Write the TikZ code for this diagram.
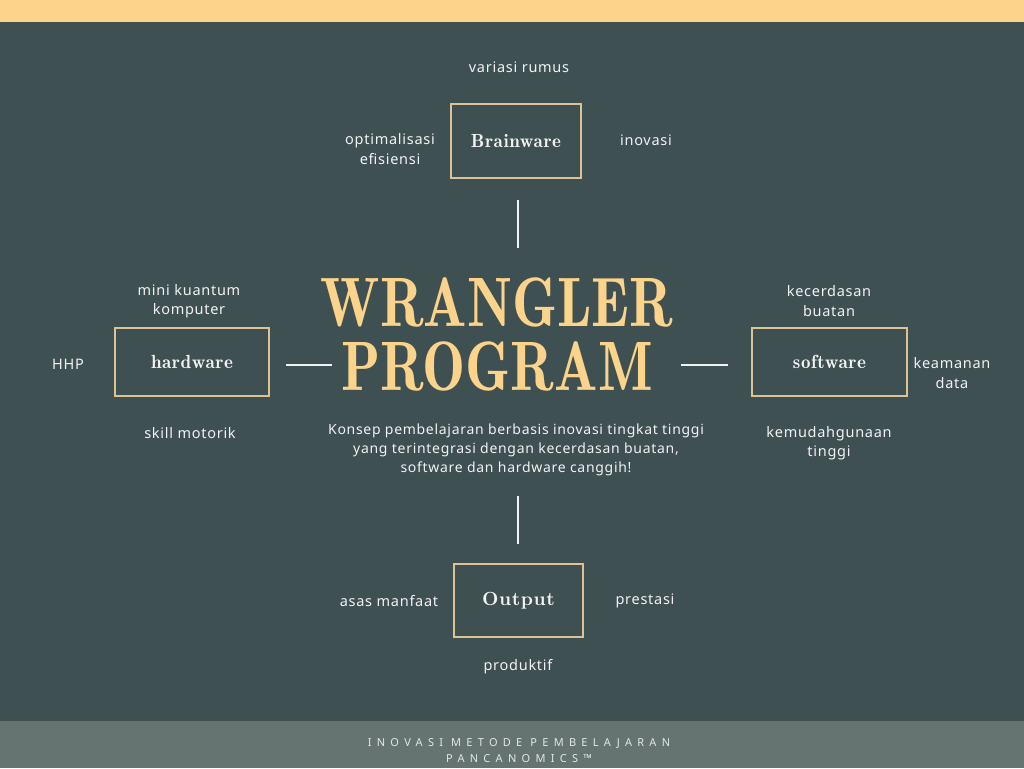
\documentclass[tikz,border=0pt]{standalone}
\usepackage{fontspec}
\setmainfont{Latin Modern Roman}
\newfontfamily\labfont[LetterSpace=5]{Noto Sans}
\newfontfamily\footfont[LetterSpace=48]{Noto Sans}
\newfontfamily\boxfont[Extension=.otf, LetterSpace=3, BoldFont=lmroman10-bold]{lmromandemi10-regular}
\newfontfamily\ttlfont[Extension=.otf]{lmromandemi10-regular}
\definecolor{bg}{HTML}{3E5052}
\definecolor{topbar}{HTML}{FDD38B}
\definecolor{footbg}{HTML}{657371}
\definecolor{gold}{HTML}{FCD38A}
\definecolor{boxline}{HTML}{DCC394}
\definecolor{labcol}{HTML}{F2F2F2}
\definecolor{footcol}{HTML}{E4E8E8}
\tikzset{
  boxnode/.style={draw=boxline, line width=1.8pt, inner sep=0pt, text=labcol,
    font=\boxfont\fontsize{19}{22}\selectfont},
  lab/.style={text=labcol, align=center, inner sep=0pt,
    font=\labfont\fontsize{14.5}{19.5}\selectfont},
  ttl/.style={text=gold, inner sep=0pt, anchor=base,
    font=\ttlfont\fontsize{70}{70}\selectfont},
  seg/.style={draw=labcol, line width=1.6pt},
  foot/.style={text=footcol, inner sep=0pt, font=\footfont\fontsize{11}{15}\selectfont}
}
\begin{document}
\begin{tikzpicture}[x=1pt,y=-1pt]
\fill[bg] (0,0) rectangle (1024,768);
\fill[topbar] (0,0) rectangle (1024,22);
\fill[footbg] (0,721) rectangle (1024,768);
\useasboundingbox (0,0) rectangle (1024,768);

% boxes
\node[boxnode, minimum width=130pt, minimum height=74pt] (brain) at (516,141) {Brainware};
\node[boxnode, minimum width=154pt, minimum height=68pt] (hard) at (192,362) {hardware};
\node[boxnode, minimum width=155pt, minimum height=68pt] (soft) at (829.5,362) {software};
\node[boxnode, minimum width=129pt, minimum height=73pt, font=\boxfont\bfseries\fontsize{19}{22}\selectfont] (out) at (518.5,600.5) {Output};

% title
\node[ttl] (t1) at (497,326) {\scalebox{0.82}[1]{WRANGLER}};
\node[ttl] (t2) at (497,390) {\scalebox{0.82}[1]{PROGRAM}};

% short line segments
\coordinate (vt1) at (518,200); \coordinate (vt2) at (518,248);
\coordinate (vb1) at (518,496); \coordinate (vb2) at (518,544);
\coordinate (hl1) at (286,365); \coordinate (hl2) at (332,365);
\coordinate (hr1) at (681,365); \coordinate (hr2) at (728,365);
\draw[seg] (vt1) -- (vt2);
\draw[seg] (vb1) -- (vb2);
\draw[seg] (hl1) -- (hl2);
\draw[seg] (hr1) -- (hr2);

% labels
\node[lab] (l1) at (519,67) {variasi rumus};
\node[lab] (l2) at (390,149) {optimalisasi\\efisiensi};
\node[lab] (l3) at (646,140) {inovasi};
\node[lab] (l4) at (189,301) {mini kuantum\\komputer};
\node[lab] (l5) at (68,364) {HHP};
\node[lab] (l6) at (190,433) {skill motorik};
\node[lab] (l7) at (829,301) {kecerdasan\\buatan};
\node[lab] (l8) at (952,373) {keamanan\\data};
\node[lab] (l9) at (829,443) {kemudahgunaan\\tinggi};
\node[lab] (l10) at (389,601) {asas manfaat};
\node[lab] (l11) at (645,601) {prestasi};
\node[lab] (l12) at (518,667) {produktif};
\node[lab, font=\labfont\fontsize{14}{19}\selectfont] (desc) at (516,450) {Konsep pembelajaran berbasis inovasi tingkat tinggi\\yang terintegrasi dengan kecerdasan buatan,\\software dan hardware canggih!};

% footer
\node[foot] (f1) at (519,744) {INOVASI METODE PEMBELAJARAN};
\node[foot] (f2) at (519,759) {PANCANOMICS™};
\end{tikzpicture}
\end{document}
